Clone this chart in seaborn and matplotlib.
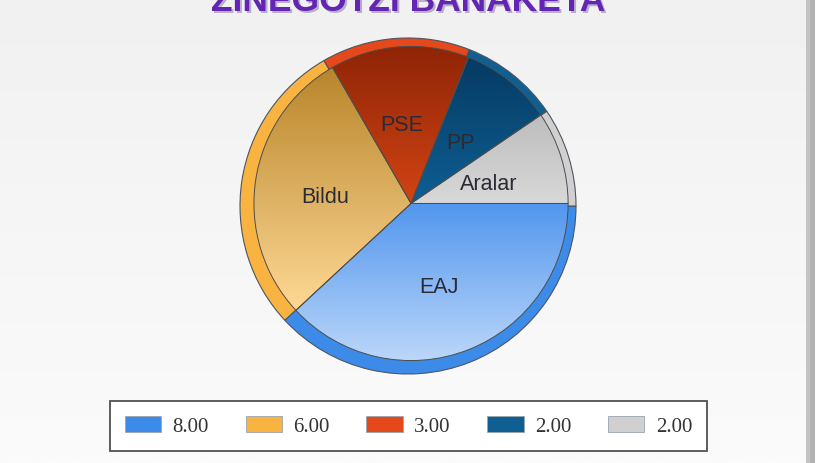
import numpy as np
import matplotlib
matplotlib.use("Agg")
import matplotlib.pyplot as plt
import matplotlib.colors as mcolors
from matplotlib.patches import Patch
import seaborn as sns

# data
parties = ["EAJ", "Bildu", "PSE", "PP", "Aralar"]
seats = [8, 6, 3, 2, 2]
legend_labels = ["8.00", "6.00", "3.00", "2.00", "2.00"]
title_text = "ZINEGOTZI BANAKETA"

# colours: outer ring, inner gradient top, inner gradient bottom
ring_colors = ["#3d8be8", "#f8b340", "#e5481a", "#0f5f92", "#d0d0d0"]
top_colors = ["#5296ee", "#b8852a", "#8e2406", "#063a62", "#bdbdbd"]
bottom_colors = ["#bcd7f9", "#fed894", "#d24414", "#0d5f94", "#d8d8d8"]

sns.set_theme(style="white")
plt.rcParams["font.family"] = ["Liberation Sans", "DejaVu Sans"]

W, H = 825, 464
fig = plt.figure(figsize=(W / 100, H / 100), dpi=100)

# background: soft vertical gradient plus the grey frame edge on the right
bg = fig.add_axes([0, 0, 1, 1], zorder=-5)
grad = np.linspace(0, 1, 256).reshape(-1, 1)
bg_cmap = mcolors.LinearSegmentedColormap.from_list("bg", ["#f1f1f1", "#fbfbfb"])
bg.imshow(grad, cmap=bg_cmap, aspect="auto", extent=(0, W, 0, H), origin="upper")
bg.axvspan(806, 810, color="#c4c4c4", lw=0)
bg.axvspan(810, 815, color="#b2b2b2", lw=0)
bg.axvspan(815, W, color="white", lw=0)
bg.set_xlim(0, W)
bg.set_ylim(0, H)
bg.axis("off")

# pie axes, centre (408, 207) px, radius 168 px
cx, cy, r = 408, 207, 168
lim = 1.02
size = 2 * r * lim
ax = fig.add_axes([(cx - size / 2) / W, (H - cy - size / 2) / H, size / W, size / H])

# outer ring (bevel), carries the labels
outer, texts = ax.pie(seats, colors=ring_colors, startangle=0, counterclock=False,
                      radius=1.0, labels=parties, labeldistance=0.5,
                      wedgeprops=dict(edgecolor="#4d5560", linewidth=0.8),
                      textprops=dict(fontsize=15.5, color="#2b2b35"))
# inner disc, nudged up-right so the ring looks thicker at bottom-left
inner, _ = ax.pie(seats, colors=ring_colors, startangle=0, counterclock=False,
                  radius=0.935, center=(0.018, 0.015),
                  wedgeprops=dict(edgecolor="#4d4d4d", linewidth=0.7))

# gradient fill clipped to each inner wedge
for w, c_top, c_bot in zip(inner, top_colors, bottom_colors):
    ext = w.get_path().get_extents()
    cmap = mcolors.LinearSegmentedColormap.from_list("g", [c_top, c_bot])
    im = ax.imshow(grad, cmap=cmap, aspect="auto",
                   extent=(ext.x0, ext.x1, ext.y0, ext.y1),
                   origin="upper", zorder=w.get_zorder() + 0.1)
    im.set_clip_path(w)
    w.set_facecolor("none")
    w.set_zorder(w.get_zorder() + 0.2)
for t in texts:
    x, y = t.get_position()
    t.set_position((x, y - 0.015))
    t.set_zorder(5)
    t.set_ha("center")
    t.set_va("center")

ax.set_xlim(-lim, lim)
ax.set_ylim(-lim, lim)
ax.set_aspect("equal")
ax.axis("off")

# title, cut off at top edge, with a small shadow
tx, ty = 408 / W, 1 - 11 / H
fig.text(tx + 2 / W, ty - 2 / H, title_text, ha="center", va="baseline",
         fontsize=25.5, fontweight="bold", color="#b9b0c8")
fig.text(tx, ty, title_text, ha="center", va="baseline",
         fontsize=25.5, fontweight="bold", color="#6424b4")

# legend
handles = [Patch(facecolor=c, edgecolor="#9aa4b0", linewidth=0.6) for c in ring_colors]
leg = fig.legend(handles, legend_labels, loc="center", ncol=5,
                 bbox_to_anchor=(408.5 / W, 37 / H), frameon=True, fancybox=False,
                 edgecolor="#505050", facecolor="white", framealpha=1,
                 handlelength=1.75, handleheight=0.85, handletextpad=0.55,
                 columnspacing=1.75, borderpad=0.7,
                 prop=dict(family="Liberation Serif", size=15))
leg.get_frame().set_linewidth(1.3)
for t in leg.get_texts():
    t.set_color("#333333")

fig.savefig("out.png", dpi=100)
